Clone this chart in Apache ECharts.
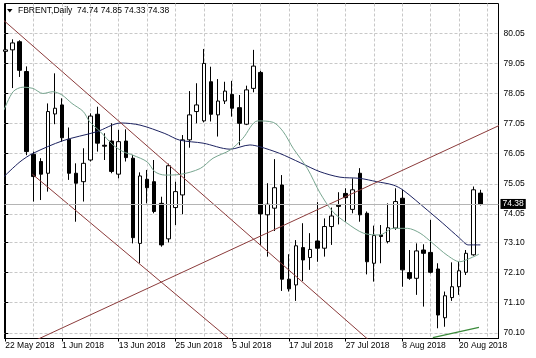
<!DOCTYPE html>
<html><head><meta charset="utf-8">
<script src="https://cdn.jsdelivr.net/npm/echarts@6/dist/echarts.min.js"></script>
<style>html,body{margin:0;padding:0;background:#fff}#c{width:536px;height:358px}</style>
</head><body><div id="c"></div>
<script>
// ---- data ----
const dates = ['22 May 2018','23 May 2018','24 May 2018','25 May 2018','28 May 2018','29 May 2018','30 May 2018','31 May 2018',
 '1 Jun 2018','4 Jun 2018','5 Jun 2018','6 Jun 2018','7 Jun 2018','8 Jun 2018','11 Jun 2018','12 Jun 2018',
 '13 Jun 2018','14 Jun 2018','15 Jun 2018','18 Jun 2018','19 Jun 2018','20 Jun 2018','21 Jun 2018','22 Jun 2018',
 '25 Jun 2018','26 Jun 2018','27 Jun 2018','28 Jun 2018','29 Jun 2018','2 Jul 2018','3 Jul 2018','4 Jul 2018',
 '5 Jul 2018','6 Jul 2018','9 Jul 2018','10 Jul 2018','11 Jul 2018','12 Jul 2018','13 Jul 2018','16 Jul 2018',
 '17 Jul 2018','18 Jul 2018','19 Jul 2018','20 Jul 2018','23 Jul 2018','24 Jul 2018','25 Jul 2018','26 Jul 2018',
 '27 Jul 2018','30 Jul 2018','31 Jul 2018','1 Aug 2018','2 Aug 2018','3 Aug 2018','6 Aug 2018','7 Aug 2018',
 '8 Aug 2018','9 Aug 2018','10 Aug 2018','13 Aug 2018','14 Aug 2018','15 Aug 2018','16 Aug 2018','17 Aug 2018',
 '20 Aug 2018','21 Aug 2018','22 Aug 2018','23 Aug 2018'];

const opens  = [79.45,79.50,79.77,78.78,76.03,75.79,75.40,77.37,77.67,76.53,75.40,75.12,75.84,77.36,76.33,76.47,
 75.37,76.47,75.90,73.07,75.20,75.12,74.40,73.22,74.26,74.68,76.51,77.45,77.14,78.44,77.34,77.80,
 78.02,77.58,77.03,78.22,78.75,74.02,74.24,75.01,71.88,71.69,72.93,72.60,73.15,72.91,73.63,74.34,
 74.73,74.20,75.40,74.07,72.41,73.35,73.13,73.58,74.57,72.10,71.91,72.85,72.77,72.22,70.60,71.27,
 71.63,72.11,72.69,74.74];
const highs  = [79.61,79.85,79.82,78.95,76.12,75.90,77.72,78.72,77.89,76.92,75.73,76.23,77.39,77.61,76.73,77.06,
 76.84,76.86,76.01,75.43,75.51,75.84,74.62,75.72,75.12,76.67,78.13,78.39,79.53,78.94,78.53,78.44,
 78.47,78.00,78.31,79.50,78.80,75.07,75.87,75.34,72.71,73.18,73.74,73.41,74.44,73.90,74.26,74.77,
 74.90,75.23,75.57,74.13,73.66,73.68,74.40,74.90,74.85,72.85,73.07,73.04,73.85,72.41,71.47,72.44,
 72.46,72.85,74.96,74.85];
const lows   = [79.16,78.23,78.60,76.00,74.46,74.51,74.79,77.03,76.45,75.18,73.79,74.46,75.79,76.12,75.84,75.40,
 75.23,75.79,73.07,72.41,74.40,74.07,72.96,73.10,73.68,74.04,76.25,77.06,77.09,77.12,76.62,77.70,
 77.28,76.33,77.00,78.09,73.02,72.63,73.48,71.49,71.47,71.16,71.82,72.19,72.46,72.63,73.02,73.70,
 73.79,74.07,73.79,72.04,71.80,72.41,73.07,73.52,71.63,71.86,71.36,70.97,72.07,70.25,70.30,71.16,
 71.36,72.02,72.66,74.33];
const closes = [79.50,79.73,78.82,76.12,75.29,75.37,77.45,77.56,76.58,75.40,75.07,75.73,77.30,76.40,76.30,75.46,
 76.45,75.92,73.26,75.31,74.92,74.13,73.02,75.65,74.79,76.51,77.34,77.67,79.05,77.36,77.80,78.13,
 77.56,77.06,78.17,78.96,74.05,74.37,74.92,71.88,71.56,72.99,72.52,72.87,72.91,73.63,73.98,74.30,
 74.59,74.85,74.02,72.46,73.33,73.30,73.59,74.46,72.19,71.91,72.82,72.74,72.11,70.69,71.33,71.63,
 72.16,72.74,74.85,74.38];

// moving averages, read as [bar index, price]
const maSlow = [[-0.18,75.29],[2.07,75.78],[3.9,76.06],[8.1,76.48],[12.9,76.78],[16.3,77.07],[19.0,77.0],
 [22.5,76.72],[24.6,76.5],[27.9,76.4],[31.7,76.2],[34.5,76.34],[35.9,76.28],[38.7,76.06],[41.6,75.75],
 [44.4,75.45],[47.2,75.27],[50.0,75.23],[52.4,75.12],[54.7,75.01],[56.1,74.84],[59.5,74.18],[61.7,73.74],
 [64.1,73.24],[65.3,73.02],[67.0,73.02]];
const maFast = [[-0.18,77.5],[1.1,78.11],[2.5,78.26],[3.9,78.22],[5.3,78.05],[6.7,78.11],[8.0,78.0],[9.4,77.72],
 [11.0,77.45],[11.9,77.11],[13.4,76.78],[15.2,76.34],[16.6,76.12],[18.0,76.0],[20.0,75.78],[21.1,75.45],
 [22.5,75.34],[24.6,75.36],[27.5,75.56],[29.3,75.9],[31.7,76.17],[33.5,76.56],[35.6,77.14],[37.8,77.09],
 [39.2,76.78],[40.6,76.23],[42.6,75.56],[44.4,74.74],[46.2,74.12],[48.2,73.74],[50.5,73.41],[52.8,73.35],
 [54.7,73.57],[56.7,73.57],[58.5,73.41],[60.3,73.07],[62.3,72.68],[64.1,72.46],[65.5,72.57],[66.8,72.71]];

// trend lines, [bar index, price]
const trendUpperDown = [[-0.18,80.47],[51.3,69.85]];
const trendLowerDown = [[3.81,75.37],[31.8,69.85]];
const trendUp = [[4.26,69.85],[69.77,77.0]];
const trendGreen = [[60.3,69.94],[66.8,70.28]];

const xLabelIdx = [0,8,16,24,32,40,48,56,64];
const xGridIdx = [0,4,8,12,16,20,24,28,32,36,40,44,48,52,56,60,64,68];
const yTickLabels = ['80.05','79.05','78.05','77.05','76.05','75.05','74.05','73.10','72.10','71.10','70.10'];
const symbolName = 'FBRENT,Daily';

// ---- chart ----
const FONT = 'Liberation Sans, Arial, DejaVu Sans, sans-serif';
const n = closes.length;
const yVals = yTickLabels.map(Number);
const X_MIN = -0.113, X_MAX = 69.56, Y_MIN = 69.91, Y_MAX = 81.04;
const GRID = '#c8c8c8';
const TREND = '#8b3b3b';

const chart = echarts.init(document.getElementById('c'), null, {renderer: 'canvas'});
chart.setOption({
  animation: false,
  backgroundColor: '#fff',
  textStyle: {fontFamily: FONT},
  title: {
    text: symbolName + '  ' + [opens[n-1], highs[n-1], lows[n-1], closes[n-1]].map(v => v.toFixed(2)).join(' '),
    left: 18, top: 6, padding: 0,
    textStyle: {fontSize: 8.5, fontWeight: 'normal', color: '#000', fontFamily: FONT}
  },
  graphic: [{type: 'polygon', shape: {points: [[7, 9], [12.5, 9], [9.75, 12.5]]}, style: {fill: '#000'}, silent: true}],
  grid: {left: 4.5, right: 37.5, top: 3.5, bottom: 19.5, show: true, borderColor: '#000', borderWidth: 1, backgroundColor: 'transparent'},
  xAxis: [
    {type: 'value', min: X_MIN, max: X_MAX, position: 'bottom',
     axisLine: {show: true, lineStyle: {color: '#000'}},
     axisTick: {show: true, customValues: xLabelIdx, length: 3, lineStyle: {color: '#000'}},
     axisLabel: {customValues: xLabelIdx, formatter: v => dates[Math.round(v)], align: 'left', margin: 3,
                 fontSize: 8.5, color: '#000', fontFamily: FONT},
     splitLine: {show: false}},
    {type: 'value', min: X_MIN, max: X_MAX, position: 'top',
     axisLine: {show: false}, axisTick: {show: false, customValues: xGridIdx}, axisLabel: {show: false},
     splitLine: {show: true, lineStyle: {color: GRID, type: [3, 2], width: 1}}}
  ],
  yAxis: {type: 'value', position: 'right', min: Y_MIN, max: Y_MAX,
    axisLine: {show: true, lineStyle: {color: '#000'}},
    axisTick: {show: true, customValues: yVals, length: 3, lineStyle: {color: '#000'}},
    axisLabel: {customValues: yVals, formatter: v => v.toFixed(2), margin: 5, fontSize: 8.5, color: '#000', fontFamily: FONT},
    splitLine: {show: true, lineStyle: {color: GRID, type: [3, 2], width: 1}}},
  series: [
    {type: 'candlestick', xAxisIndex: 0, yAxisIndex: 0, barWidth: 4, silent: true,
     data: opens.map((o, i) => [i, o, closes[i], lows[i], highs[i]]),
     itemStyle: {color: '#fff', color0: '#000', borderColor: '#000', borderColor0: '#000', borderWidth: 1},
     markLine: {silent: true, symbol: 'none', animation: false,
       data: [{yAxis: closes[n-1]}],
       lineStyle: {color: '#b4b4b4', type: 'solid', width: 1},
       label: {show: true, position: 'end', formatter: closes[n-1].toFixed(2), color: '#fff', backgroundColor: '#000',
               padding: [1, 2, 0, 2], fontSize: 8.5, distance: 2, fontFamily: FONT},
       emphasis: {disabled: true}}},
    {type: 'line', data: maSlow, symbol: 'none', smooth: 0.3, silent: true, lineStyle: {color: '#1c2260', width: 1}},
    {type: 'line', data: maFast, symbol: 'none', smooth: 0.3, silent: true, lineStyle: {color: '#78a690', width: 1}},
    {type: 'line', data: trendUpperDown, symbol: 'none', silent: true, lineStyle: {color: TREND, width: 1}},
    {type: 'line', data: trendLowerDown, symbol: 'none', silent: true, lineStyle: {color: TREND, width: 1}},
    {type: 'line', data: trendUp, symbol: 'none', silent: true, lineStyle: {color: TREND, width: 1}},
    {type: 'line', data: trendGreen, symbol: 'none', silent: true, lineStyle: {color: '#3a8a3a', width: 1.3}}
  ]
});
</script></body></html>
